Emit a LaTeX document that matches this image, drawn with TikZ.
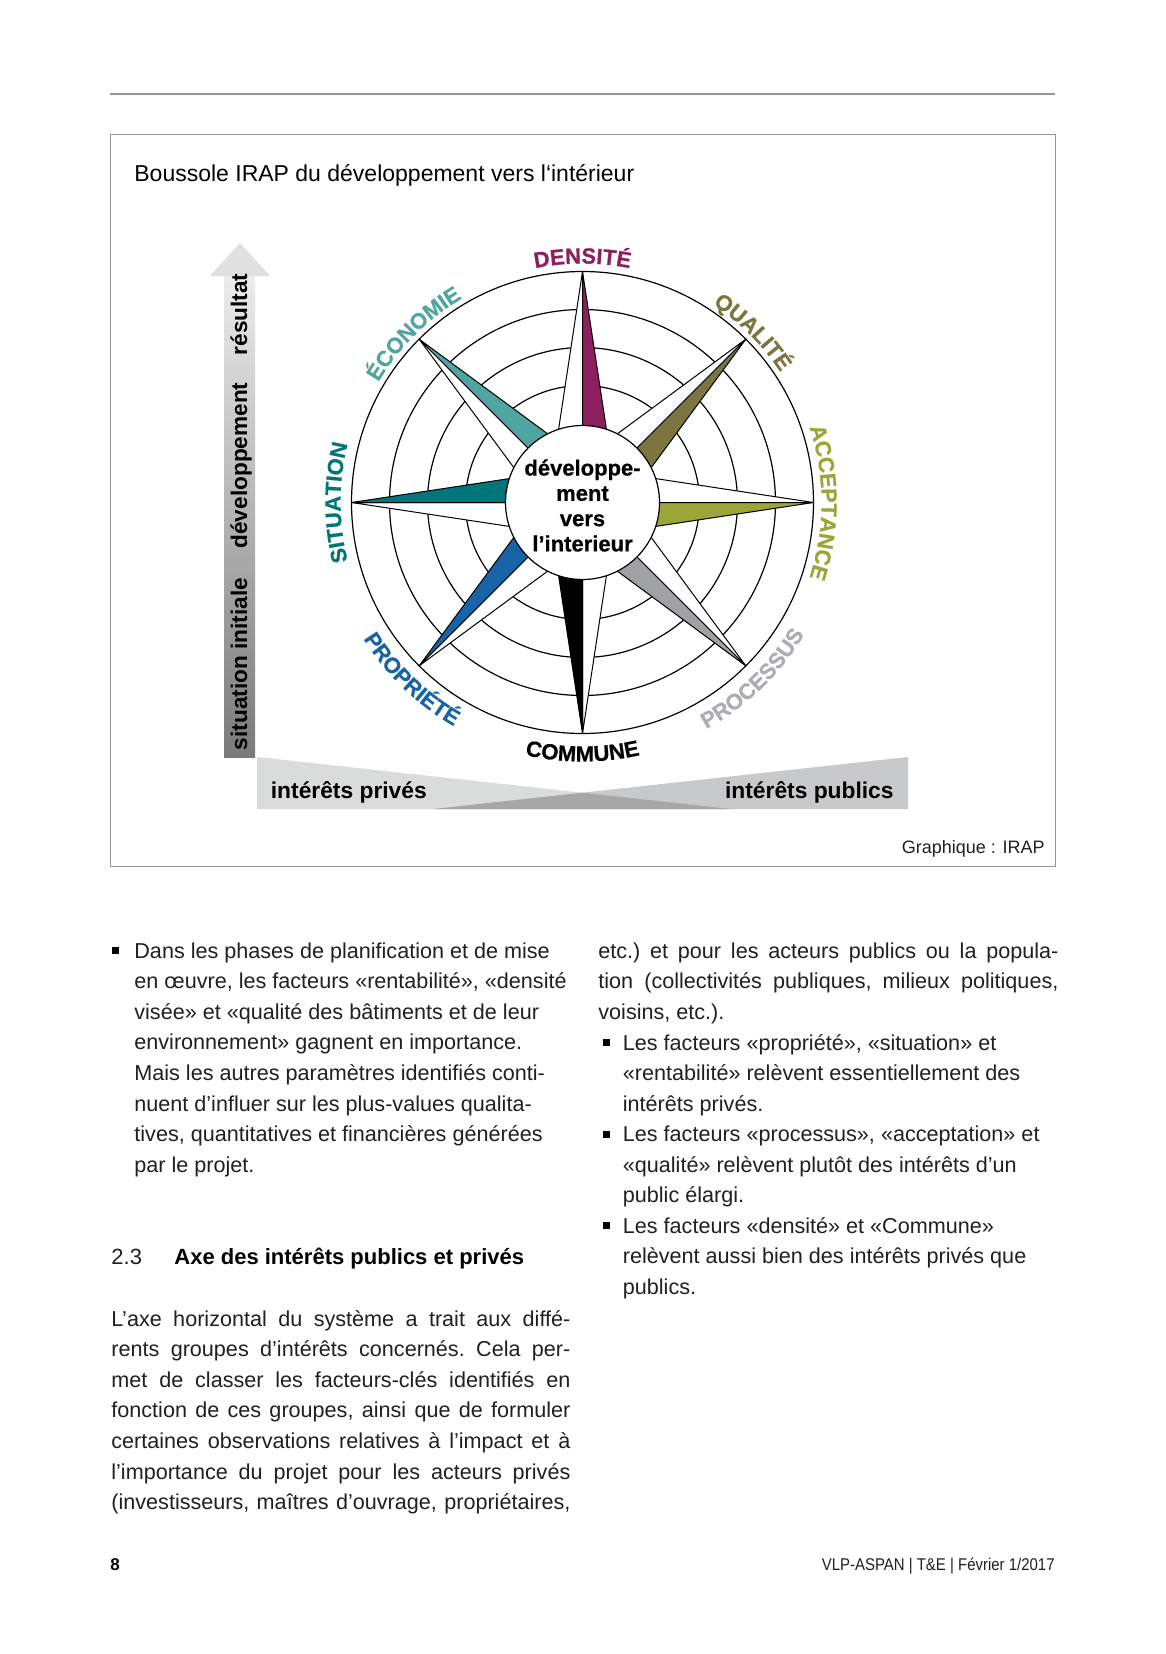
\documentclass[tikz,border=0pt]{standalone}
\usepackage{fontspec}
\setmainfont{Liberation Sans}
\newfontfamily\narrowfont[FakeStretch=0.88]{Liberation Sans}
\newfontfamily\heavyfont[BoldFeatures={FakeBold=0.6}]{Liberation Sans}
\definecolor{densite}{RGB}{140,32,95}
\definecolor{qualite}{RGB}{125,117,64}
\definecolor{acceptance}{RGB}{154,166,56}
\definecolor{processus}{RGB}{160,161,164}
\definecolor{processuslbl}{RGB}{172,173,176}
\definecolor{propriete}{RGB}{22,99,168}
\definecolor{situation}{RGB}{0,117,122}
\definecolor{economie}{RGB}{80,165,160}
\definecolor{framegray}{RGB}{150,150,150}
\definecolor{bandleft}{RGB}{218,219,219}
\definecolor{bandright}{RGB}{200,201,203}
\definecolor{bandmid}{RGB}{166,167,169}
\definecolor{bartop}{RGB}{236,236,236}
\definecolor{barbottom}{RGB}{122,122,122}
\definecolor{bodygray}{RGB}{35,31,32}
\usetikzlibrary{calc,decorations.text}
\newcommand\lblfont{\heavyfont\bfseries\fontsize{11}{13}\selectfont}
\newcommand\bodyfont{\fontsize{10.8}{15.33}\selectfont\frenchspacing}
\newcommand\jline[1]{\makebox[\hsize][s]{#1}}

\begin{document}
\begin{tikzpicture}[x=0.5pt,y=0.5pt,
  pagerule/.style={draw=framegray,line width=0.7pt},
  boxframe/.style={draw=framegray,line width=0.5pt},
  ring/.style={draw=black,line width=0.6pt},
  arm/.style={draw=black,line width=0.5pt,line join=round},
  hub/.style={circle,draw=black,fill=white,line width=0.6pt,minimum size=77pt,inner sep=0pt},
  hubtext/.style={align=center,inner sep=0pt,font=\heavyfont\bfseries\fontsize{11}{12.65}\selectfont},
  arclbl/.style 2 args={decorate,decoration={text along path,text align=center,text color=#2,text={|\lblfont|#1}}},
  axlbl/.style={rotate=90,anchor=base,inner sep=0pt,font=\bfseries\fontsize{11.3}{13}\selectfont},
  bandlbl/.style={inner sep=0pt,font=\bfseries\fontsize{11.4}{13}\selectfont},
  body/.style={anchor=base west,inner sep=0pt,align=flush left,text=bodygray,font=\bodyfont},
  bullet/.style={rectangle,fill=black,minimum size=3.5pt,inner sep=0pt}]

  \fill[white] (0,0) rectangle (1166,-1654);
  \useasboundingbox (0,0) rectangle (1166,-1654);

  \draw[pagerule] (110,-94) -- (1055,-94);
  \draw[boxframe] (110,-134) rectangle (1055,-866);
  \node[anchor=base west,inner sep=0pt,font=\fontsize{11.5}{14}\selectfont] (title) at (134,-181.5)
    {Boussole IRAP du développement vers l‘intérieur};
  \node[anchor=base east,inner sep=0pt,text=bodygray,font=\fontsize{9}{11}\selectfont] (credit) at (1045,-853.5)
    {Graphique : IRAP};

  \shade[bottom color=barbottom,top color=bartop] (224,-757) rectangle (255,-276);
  \fill[bartop!95!black] (210,-276) -- (240,-243) -- (270,-276) -- cycle;
  \node[axlbl] (sitini) at (247,-664) {situation initiale};
  \node[axlbl] (devel) at (247,-465.5) {développement};
  \node[axlbl] (result) at (247,-314.5) {résultat};

  \fill[bandleft] (257,-757) -- (731,-809) -- (257,-809) -- cycle;
  \fill[bandright] (908,-757) -- (908,-809) -- (434,-809) -- cycle;
  \fill[bandmid] (434,-809) -- (582.5,-792.7) -- (731,-809) -- cycle;
  \node[bandlbl,anchor=base west] (priv) at (270.5,-798) {intérêts privés};
  \node[bandlbl,anchor=base east] (pub) at (894,-798) {intérêts publics};

  \coordinate (C) at (582.5,-502.5);
  \foreach \r in {231,193,155,117}
    \draw[ring] (C) circle[radius=\r];
  \begin{scope}[shift={(C)}]
    \foreach \a/\col in {90/densite,45/qualite,0/acceptance,-45/processus,-90/black,-135/propriete,180/situation,135/economie}{
      \filldraw[arm,fill=white] (0,0) -- (\a:231) -- ({\a+90}:35) -- cycle;
      \filldraw[arm,fill=\col] (0,0) -- (\a:231) -- ({\a-90}:35) -- cycle;
    }
  \end{scope}
  \node[hub] (hub) at (C) {};
  \node[hubtext] (hubtxt) at ($(C)+(0,-3)$) {développe-\\ment\\vers\\l’interieur};

  \path[arclbl={DENSITÉ}{densite}] ($(C)+(120:239)$) arc[start angle=120,end angle=60,radius=239];
  \path[arclbl={QUALITÉ}{qualite}] ($(C)+(75:237)$) arc[start angle=75,end angle=15,radius=237];
  \path[arclbl={ACCEPTANCE}{acceptance}] ($(C)+(30:239)$) arc[start angle=30,end angle=-30,radius=239];
  \path[arclbl={ÉCONOMIE}{economie}] ($(C)+(165:237)$) arc[start angle=165,end angle=105,radius=237];
  \path[arclbl={SITUATION}{situation}] ($(C)+(210:242)$) arc[start angle=210,end angle=150,radius=242];
  \path[arclbl={PROPRIÉTÉ}{propriete}] ($(C)+(196:258)$) arc[start angle=196,end angle=256,radius=258];
  \path[arclbl={COMMUNE}{black}] ($(C)+(240:259)$) arc[start angle=240,end angle=300,radius=259];
  \path[arclbl={PROCESSUS}{processuslbl}] ($(C)+(284:258)$) arc[start angle=284,end angle=344,radius=258];

  \node[bullet] (blt1) at (115.5,-950.5) {};
  \node[body,text width=232pt] (para1) at (134,-958)
    {Dans les phases de planification et de mise\\
     en œuvre, les facteurs «rentabilité», «densité\\
     visée» et «qualité des bâtiments et de leur\\
     environnement» gagnent en importance.\\
     Mais les autres paramètres identifiés conti-\\
     nuent d’influer sur les plus-values qualita-\\
     tives, quantitatives et financières générées\\
     par le projet.};

  \node[body] (secnum) at (111,-1264) {\fontsize{11}{13}\selectfont 2.3};
  \node[body,text=black] (sechead) at (174,-1264) {\bfseries\fontsize{11}{13}\selectfont Axe des intérêts publics et privés};

  \node[body,text width=229.5pt] (para2) at (111,-1326)
    {\jline{L’axe horizontal du système a trait aux diffé-}\\
     \jline{rents groupes d’intérêts concernés. Cela per-}\\
     \jline{met de classer les facteurs-clés identifiés en}\\
     \jline{fonction de ces groupes, ainsi que de formuler}\\
     \jline{certaines observations relatives à l’impact et à}\\
     \jline{l’importance du projet pour les acteurs privés}\\
     \jline{(investisseurs, maîtres d’ouvrage, propriétaires,}};

  \node[body,text width=230pt] (para3) at (598,-958)
    {\jline{etc.) et pour les acteurs publics ou la popula-}\\
     \jline{tion (collectivités publiques, milieux politiques,}\\
     voisins, etc.).};

  \node[bullet] (blt2) at (606,-1042.5) {};
  \node[body,text width=228pt] (item2) at (622.5,-1050)
    {Les facteurs «propriété», «situation» et\\
     «rentabilité» relèvent essentiellement des\\
     intérêts privés.};
  \node[bullet] (blt3) at (606,-1134) {};
  \node[body,text width=228pt] (item3) at (622.5,-1141.5)
    {Les facteurs «processus», «acceptation» et\\
     «qualité» relèvent plutôt des intérêts d’un\\
     public élargi.};
  \node[bullet] (blt4) at (606,-1225.5) {};
  \node[body,text width=228pt] (item4) at (622.5,-1233)
    {Les facteurs «densité» et «Commune»\\
     relèvent aussi bien des intérêts privés que\\
     publics.};

  \node[anchor=base west,inner sep=0pt,font=\bfseries\fontsize{8.5}{10}\selectfont] (pageno) at (110,-1570) {8};
  \node[anchor=base east,inner sep=0pt,text=bodygray,font=\narrowfont\fontsize{8.5}{10}\selectfont] (footer) at (1055,-1570)
    {VLP-ASPAN | T\&E | Février 1/2017};
\end{tikzpicture}
\end{document}
